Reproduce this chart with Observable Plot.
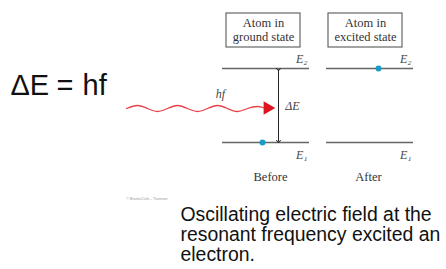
<!DOCTYPE html>
<html><head><meta charset="utf-8">
<script src="https://cdn.jsdelivr.net/npm/d3@7"></script>
<script src="https://cdn.jsdelivr.net/npm/@observablehq/plot@0.6"></script>
<style>html,body{margin:0;padding:0;background:#fff}</style>
</head><body><div id="chart"></div>
<script>
// Diagram data (diagram units = pixel grid of the reference)
const boxes = [
  {x1: 226, x2: 300, y1: 13, y2: 47, l1: "Atom in", l2: "ground state"},
  {x1: 328, x2: 402, y1: 13, y2: 47, l1: "Atom in", l2: "excited state"}
];
const levels = [
  {x1: 222, x2: 309, y: 68, label: "E\u2082"},
  {x1: 326, x2: 413, y: 68, label: "E\u2082"},
  {x1: 222, x2: 309, y: 142, label: "E\u2081"},
  {x1: 326, x2: 413, y: 142, label: "E\u2081"}
];
const electrons = [
  {x: 262, y: 142},
  {x: 378, y: 68}
];
const gap = [{x: 278, y1: 69, y2: 141}];
const waveX = [126, 137, 147, 157, 167, 177, 187, 197, 207, 217, 227, 237, 247, 257, 264];
const waveY = [108, 105, 108, 111, 108, 105, 108, 111, 108, 105, 108, 111, 108, 106, 107.5];
const wave = waveX.map((x, i) => ({x, y: waveY[i]}));
const head = [{x: 267, y: 107.5}];
const states = [{x: 270, y: 176, t: "Before"}, {x: 368, y: 176, t: "After"}];
const equation = ["\u0394E", "=", "hf"];
const caption = [
  "Oscillating electric field at the",
  "resonant frequency excited an",
  "electron."
];

const serif = "'Liberation Serif','DejaVu Serif',serif";
const sans = "'Liberation Sans',Arial,sans-serif";

const chart = Plot.plot({
  width: 446, height: 269, margin: 0,
  style: {background: "#fff"},
  x: {domain: [0, 446], range: [0, 446], axis: null},
  y: {domain: [0, 269], range: [0, 269], axis: null},
  marks: [
    Plot.text(equation, {x: (d, i) => [10, 56, 82][i], y: 88, text: d => d, textAnchor: "start", lineAnchor: "bottom", dy: 6, fontSize: 29, fontFamily: sans, fill: "#111"}),
    Plot.rect(boxes, {x1: "x1", x2: "x2", y1: "y1", y2: "y2", fill: "#fff", stroke: "#666", strokeWidth: 1.2}),
    Plot.text(boxes, {x: d => (d.x1 + d.x2) / 2, y: 22, text: "l1", fontSize: 12.5, fontFamily: serif, fill: "#333"}),
    Plot.text(boxes, {x: d => (d.x1 + d.x2) / 2, y: 36, text: "l2", fontSize: 12.5, fontFamily: serif, fill: "#333"}),
    Plot.ruleY(levels, {x1: "x1", x2: "x2", y: "y", stroke: "#666", strokeWidth: 1.3}),
    Plot.text(levels, {x: d => d.x2 - 2, y: d => d.y < 100 ? d.y - 9 : d.y + 13, text: "label", textAnchor: "end", fontSize: 12, fontStyle: "italic", fontFamily: serif, fill: "#444"}),
    Plot.link(gap, {x1: "x", x2: "x", y1: "y1", y2: "y2", stroke: "#222", strokeWidth: 1, markerStart: "arrow", markerEnd: "arrow"}),
    Plot.text(["\u0394E"], {x: 292, y: 106, text: d => d, fontSize: 12, fontFamily: serif, fontStyle: "italic", fill: "#444"}),
    Plot.line(wave, {x: "x", y: "y", curve: "natural", stroke: "#e8414a", strokeWidth: 1.3}),
    Plot.dot(head, {x: "x", y: "y", symbol: "triangle", rotate: 90, r: 5, fill: "#e0141e", stroke: "none"}),
    Plot.text(["hf"], {x: 220, y: 94, text: d => d, fontSize: 12, fontFamily: serif, fontStyle: "italic", fill: "#444"}),
    Plot.dot(electrons, {x: "x", y: "y", r: 3, fill: "#1a9cc6", stroke: "none"}),
    Plot.text(states, {x: "x", y: "y", text: "t", fontSize: 12.5, fontFamily: serif, fill: "#333"}),
    Plot.text(["\u00A9 Brooks/Cole \u2013 Thomson"], {x: 126, y: 198, text: d => d, textAnchor: "start", fontSize: 3.5, fontFamily: sans, fill: "#999"}),
    Plot.text(caption, {x: 180, y: (d, i) => 214 + i * 20, text: d => d, textAnchor: "start", fontSize: 19.4, fontFamily: sans, fill: "#111"})
  ]
});
document.getElementById("chart").appendChild(chart);
</script>
</body></html>
